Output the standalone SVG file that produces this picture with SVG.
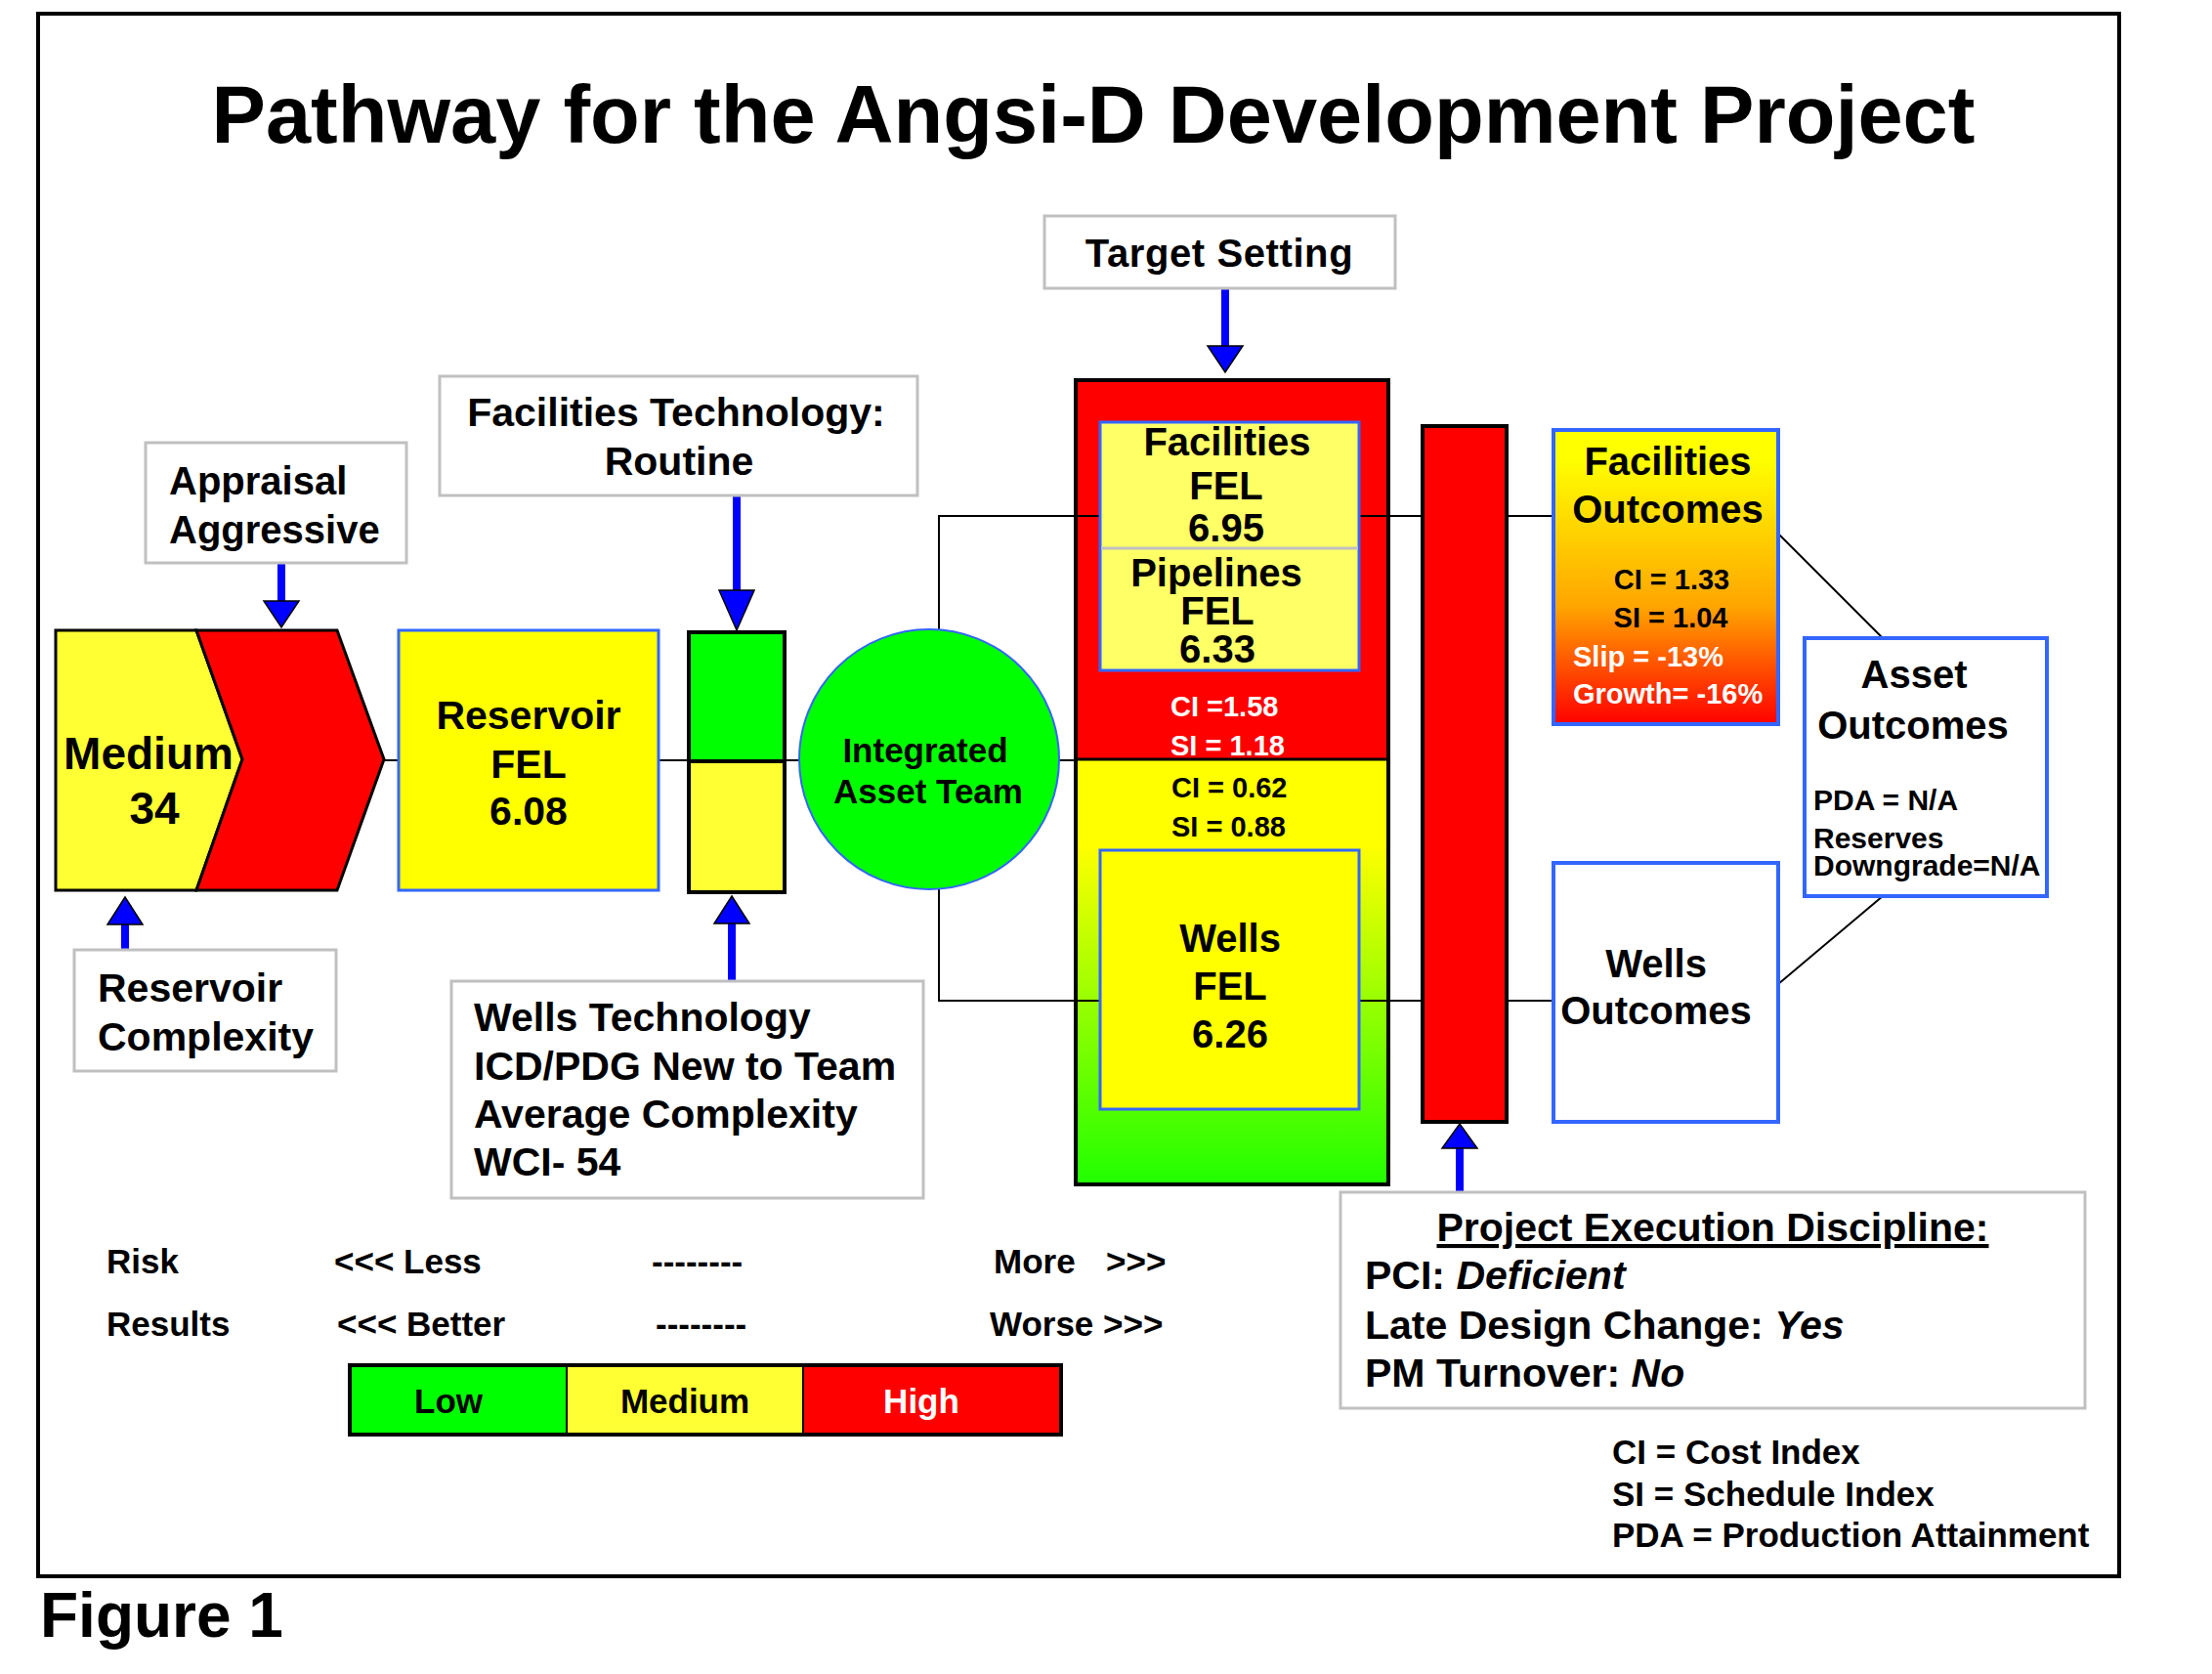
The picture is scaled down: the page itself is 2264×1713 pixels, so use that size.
<svg xmlns="http://www.w3.org/2000/svg" width="2264" height="1713" viewBox="0 0 2264 1713">
<style>
.t{font-family:"Liberation Sans",Arial,Helvetica,sans-serif;font-weight:bold;fill:#000}
.c{text-anchor:middle}
.w{fill:#fff}
.f40{font-size:40px}
.f41{font-size:41px}
.f29{font-size:29px}
.f35{font-size:35px}
.gray{fill:#fff;stroke:#c0c0c0;stroke-width:3}
.blue{stroke:#3366ff;stroke-width:3}
.blk{stroke:#000;stroke-width:4}
.conn{stroke:#000;stroke-width:2;fill:none}
.shaft{stroke:#0000ff;stroke-width:8}
.head{fill:#0000ff;stroke:#000;stroke-width:1.5}
</style>
<defs>
<linearGradient id="gWells" x1="0" y1="0" x2="0" y2="1">
<stop offset="0" stop-color="#ffff00"/>
<stop offset="0.2" stop-color="#ffff00"/>
<stop offset="1" stop-color="#20ff00"/>
</linearGradient>
<linearGradient id="gFacOut" x1="0" y1="0" x2="0" y2="1">
<stop offset="0" stop-color="#ffff00"/>
<stop offset="0.1" stop-color="#ffff00"/>
<stop offset="0.6" stop-color="#ffa500"/>
<stop offset="1" stop-color="#ff0000"/>
</linearGradient>
</defs>
<rect width="2264" height="1713" fill="#fff"/>
<rect x="39" y="14" width="2130" height="1599" fill="none" stroke="#000" stroke-width="4"/>
<text class="t c" x="1119" y="146" font-size="83">Pathway for the Angsi-D Development Project</text>

<g id="connectors">
<line class="conn" x1="393" y1="778" x2="1101" y2="778"/>
<polyline class="conn" points="961,645 961,528 1126,528"/>
<line class="conn" x1="1391" y1="528" x2="1590" y2="528"/>
<polyline class="conn" points="961,910 961,1024 1126,1024"/>
<line class="conn" x1="1391" y1="1024" x2="1590" y2="1024"/>
<line class="conn" x1="1820" y1="546" x2="1927" y2="653"/>
<line class="conn" x1="1820" y1="1007" x2="1927" y2="917"/>
<line class="shaft" x1="288" y1="576" x2="288" y2="616"/>
<polygon class="head" points="270,615 306,615 288,642"/>
<line class="shaft" x1="754" y1="507" x2="754" y2="605"/>
<polygon class="head" points="736,604 772,604 754,645"/>
<line class="shaft" x1="1254" y1="295" x2="1254" y2="355"/>
<polygon class="head" points="1236,354 1272,354 1254,381"/>
<line class="shaft" x1="128" y1="972" x2="128" y2="945"/>
<polygon class="head" points="110,946 146,946 128,918"/>
<line class="shaft" x1="749" y1="1004" x2="749" y2="944"/>
<polygon class="head" points="731,945 767,945 749,917"/>
<line class="shaft" x1="1494" y1="1219" x2="1494" y2="1174"/>
<polygon class="head" points="1476,1175 1512,1175 1494,1150"/>
</g>

<g id="appraisal">
<rect class="gray" x="149" y="453" width="267" height="123"/>
<text class="t f40" x="173" y="506">Appraisal</text>
<text class="t f40" x="173" y="556">Aggressive</text>
</g>

<g id="medium">
<polygon points="57,645 201,645 248,777 201,911 57,911" fill="#ffff33" stroke="#000" stroke-width="3"/>
<polygon points="201,645 345,645 393,777 345,911 201,911 248,777" fill="#ff0000" stroke="#000" stroke-width="3"/>
<text class="t c" x="152" y="787" font-size="46">Medium</text>
<text class="t c" x="158" y="843" font-size="46">34</text>
</g>

<g id="reservoir-complexity">
<rect class="gray" x="76" y="972" width="268" height="124"/>
<text class="t f41" x="100" y="1025">Reservoir</text>
<text class="t f41" x="100" y="1075">Complexity</text>
</g>

<g id="reservoir-fel">
<rect class="blue" x="408" y="645" width="266" height="266" fill="#ffff00"/>
<text class="t c f41" x="541" y="746">Reservoir</text>
<text class="t c f41" x="541" y="796">FEL</text>
<text class="t c f41" x="541" y="844">6.08</text>
</g>

<g id="facilities-technology">
<rect class="gray" x="450" y="385" width="489" height="122"/>
<text class="t c f41" x="692" y="436">Facilities Technology:</text>
<text class="t c f41" x="695" y="486">Routine</text>
</g>

<g id="tech-column">
<rect x="705" y="647" width="98" height="132" fill="#00ff00"/>
<rect x="705" y="779" width="98" height="134" fill="#ffff33"/>
<rect class="blk" x="705" y="647" width="98" height="266" fill="none"/>
<line class="blk" x1="705" y1="779" x2="803" y2="779"/>
</g>

<g id="wells-technology">
<rect class="gray" x="462" y="1004" width="483" height="222"/>
<text class="t f41" x="485" y="1055">Wells Technology</text>
<text class="t f41" x="485" y="1105">ICD/PDG New to Team</text>
<text class="t f41" x="485" y="1154">Average Complexity</text>
<text class="t f41" x="485" y="1203">WCI- 54</text>
</g>

<g id="integrated-asset-team">
<circle cx="951" cy="777" r="133" fill="#00ff00" stroke="#3366ff" stroke-width="2"/>
<text class="t c" x="947" y="780" font-size="35">Integrated</text>
<text class="t c" x="950" y="822" font-size="35">Asset Team</text>
</g>

<g id="target-setting">
<rect class="gray" x="1069" y="221" width="359" height="74"/>
<text class="t c" x="1248" y="273" font-size="40" letter-spacing="0.6">Target Setting</text>
</g>

<g id="fel-block">
<rect x="1101" y="389" width="320" height="388" fill="#ff0000"/>
<rect x="1101" y="777" width="320" height="435" fill="url(#gWells)"/>
<rect class="blk" x="1101" y="389" width="320" height="823" fill="none"/>
<line x1="1101" y1="777" x2="1421" y2="777" stroke="#000" stroke-width="3"/>
<line class="conn" x1="1101" y1="528" x2="1126" y2="528"/>
<line class="conn" x1="1101" y1="1024" x2="1126" y2="1024"/>
<line class="conn" x1="1391" y1="528" x2="1421" y2="528"/>
<line class="conn" x1="1391" y1="1024" x2="1421" y2="1024"/>
<text class="t w f29" x="1198" y="733">CI =1.58</text>
<text class="t w f29" x="1198" y="773">SI = 1.18</text>
<text class="t f29" x="1199" y="816">CI = 0.62</text>
<text class="t f29" x="1199" y="856">SI = 0.88</text>
</g>

<g id="facilities-pipelines-fel">
<rect class="blue" x="1126" y="432" width="265" height="254" fill="#ffff66"/>
<line x1="1127" y1="561" x2="1390" y2="561" stroke="#c0c0c0" stroke-width="3"/>
<text class="t c f40" x="1256" y="466">Facilities</text>
<text class="t c f40" x="1255" y="511">FEL</text>
<text class="t c f40" x="1255" y="554">6.95</text>
<text class="t c f40" x="1245" y="600">Pipelines</text>
<text class="t c f40" x="1246" y="639">FEL</text>
<text class="t c f40" x="1246" y="678">6.33</text>
</g>

<g id="wells-fel">
<rect class="blue" x="1126" y="870" width="265" height="265" fill="#ffff00"/>
<text class="t c f40" x="1259" y="974">Wells</text>
<text class="t c f40" x="1259" y="1023">FEL</text>
<text class="t c f40" x="1259" y="1072">6.26</text>
</g>

<g id="execution-bar">
<rect class="blk" x="1456" y="436" width="86" height="712" fill="#ff0000"/>
</g>

<g id="facilities-outcomes">
<rect x="1590" y="440" width="230" height="301" fill="url(#gFacOut)" stroke="#3366ff" stroke-width="4"/>
<text class="t c f40" x="1707" y="486">Facilities</text>
<text class="t c f40" x="1707" y="535">Outcomes</text>
<text class="t c f29" x="1711" y="603">CI = 1.33</text>
<text class="t c f29" x="1710" y="642">SI = 1.04</text>
<text class="t w f29" x="1610" y="682">Slip = -13%</text>
<text class="t w f29" x="1610" y="720">Growth= -16%</text>
</g>

<g id="wells-outcomes">
<rect x="1590" y="883" width="230" height="265" fill="#fff" stroke="#3366ff" stroke-width="4"/>
<text class="t c f40" x="1695" y="1000">Wells</text>
<text class="t c f40" x="1695" y="1048">Outcomes</text>
</g>

<g id="asset-outcomes">
<rect x="1847" y="653" width="248" height="264" fill="#fff" stroke="#3366ff" stroke-width="4"/>
<text class="t c f40" x="1959" y="704">Asset</text>
<text class="t c f40" x="1958" y="756">Outcomes</text>
<text class="t" x="1856" y="829" font-size="30">PDA = N/A</text>
<text class="t" x="1856" y="868" font-size="30">Reserves</text>
<text class="t" x="1856" y="896" font-size="30">Downgrade=N/A</text>
</g>

<g id="project-execution-discipline">
<rect class="gray" x="1372" y="1220" width="762" height="221"/>
<text class="t c f41" x="1753" y="1270" text-decoration="underline">Project Execution Discipline:</text>
<text class="t f41" x="1397" y="1319">PCI: <tspan font-style="italic">Deficient</tspan></text>
<text class="t f41" x="1397" y="1370">Late Design Change: <tspan font-style="italic">Yes</tspan></text>
<text class="t f41" x="1397" y="1419">PM Turnover: <tspan font-style="italic">No</tspan></text>
</g>

<g id="risk-legend">
<text class="t f35" x="109" y="1303">Risk</text>
<text class="t f35" x="342" y="1303">&lt;&lt;&lt; Less</text>
<text class="t f35" x="667" y="1303">--------</text>
<text class="t f35" x="1017" y="1303">More<tspan x="1132">&gt;&gt;&gt;</tspan></text>
<text class="t f35" x="109" y="1367">Results</text>
<text class="t f35" x="345" y="1367">&lt;&lt;&lt; Better</text>
<text class="t f35" x="671" y="1367">--------</text>
<text class="t f35" x="1013" y="1367">Worse &gt;&gt;&gt;</text>
<rect x="358" y="1397" width="222" height="71" fill="#00ff00"/>
<rect x="580" y="1397" width="242" height="71" fill="#ffff33"/>
<rect x="822" y="1397" width="264" height="71" fill="#ff0000"/>
<rect class="blk" x="358" y="1397" width="728" height="71" fill="none"/>
<line x1="580" y1="1397" x2="580" y2="1468" stroke="#000" stroke-width="2"/>
<line x1="822" y1="1397" x2="822" y2="1468" stroke="#000" stroke-width="2"/>
<text class="t c f35" x="459" y="1446">Low</text>
<text class="t c f35" x="701" y="1446">Medium</text>
<text class="t c w f35" x="943" y="1446">High</text>
</g>

<g id="abbreviations">
<text class="t f35" x="1650" y="1498">CI = Cost Index</text>
<text class="t f35" x="1650" y="1541">SI = Schedule Index</text>
<text class="t f35" x="1650" y="1583">PDA = Production Attainment</text>
</g>

<text class="t" x="41" y="1675" font-size="64">Figure 1</text>
</svg>
